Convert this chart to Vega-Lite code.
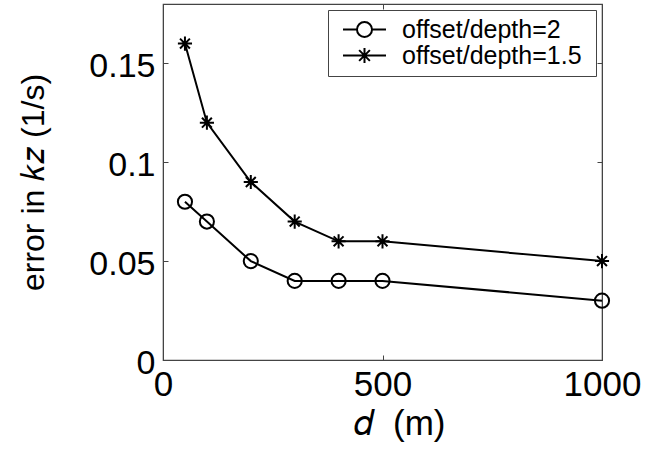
{
  "$schema": "https://vega.github.io/schema/vega-lite/v6.json",
  "width": 439,
  "height": 356,
  "autosize": "none",
  "padding": {"left": 163, "top": 4, "right": 54, "bottom": 96},
  "background": "white",
  "config": {
    "view": {"stroke": "#444", "strokeWidth": 1.2},
    "font": "Liberation Sans",
    "axis": {"grid": false, "domainColor": "#444", "tickColor": "#444", "labelColor": "black", "titleColor": "black", "labelFont": "Liberation Sans", "titleFont": "Liberation Sans", "titleFontWeight": "normal"}
  },
  "data": {"values": [
    {"d": 50, "err": 0.08, "series": "offset/depth=2"},
    {"d": 100, "err": 0.07, "series": "offset/depth=2"},
    {"d": 200, "err": 0.05, "series": "offset/depth=2"},
    {"d": 300, "err": 0.04, "series": "offset/depth=2"},
    {"d": 400, "err": 0.04, "series": "offset/depth=2"},
    {"d": 500, "err": 0.04, "series": "offset/depth=2"},
    {"d": 1000, "err": 0.03, "series": "offset/depth=2"},
    {"d": 50, "err": 0.16, "series": "offset/depth=1.5"},
    {"d": 100, "err": 0.12, "series": "offset/depth=1.5"},
    {"d": 200, "err": 0.09, "series": "offset/depth=1.5"},
    {"d": 300, "err": 0.07, "series": "offset/depth=1.5"},
    {"d": 400, "err": 0.06, "series": "offset/depth=1.5"},
    {"d": 500, "err": 0.06, "series": "offset/depth=1.5"},
    {"d": 1000, "err": 0.05, "series": "offset/depth=1.5"}
  ]},
  "layer": [
    {
      "mark": {"type": "line", "color": "black", "strokeWidth": 2},
      "encoding": {
        "x": {"field": "d", "type": "quantitative", "scale": {"domain": [0, 1000], "nice": false},
          "axis": {"orient": "bottom", "values": [0, 500, 1000], "labelExpr": "'' + datum.value", "title": "𝑑\u00a0\u00a0(m)", "labelFontSize": 35, "titleFontSize": 35, "tickSize": -5, "labelPadding": 12, "titlePadding": 4, "labelFlush": false, "titleX": 236}},
        "y": {"field": "err", "type": "quantitative", "scale": {"domain": [0, 0.18], "nice": false},
          "axis": {"orient": "left", "values": [0, 0.05, 0.1, 0.15], "labelExpr": "'' + datum.value", "title": "error in 𝑘𝑧 (1/s)", "labelFontSize": 34, "titleFontSize": 32, "tickSize": -5, "labelPadding": 13, "titlePadding": 38, "labelFlush": false, "labelOffset": 3}},
        "detail": {"field": "series"}
      }
    },
    {
      "mark": {"type": "point", "filled": false, "stroke": "black", "strokeWidth": 2, "size": 200, "opacity": 1},
      "encoding": {
        "x": {"field": "d", "type": "quantitative", "axis": {"orient": "top", "values": [0, 500, 1000], "labels": false, "title": null, "tickSize": -5}},
        "y": {"field": "err", "type": "quantitative", "axis": {"orient": "right", "values": [0, 0.05, 0.1, 0.15], "labels": false, "title": null, "tickSize": -5}},
        "shape": {"field": "series", "type": "nominal", "legend": null,
          "scale": {"domain": ["offset/depth=2", "offset/depth=1.5"],
            "range": ["circle", "M-1,0H1M0,-1V1M-0.7,-0.7L0.7,0.7M-0.7,0.7L0.7,-0.7"]}}
      }
    },
    {
      "mark": {"type": "point", "filled": false, "stroke": "black", "strokeWidth": 2, "size": 462, "opacity": 0},
      "encoding": {
        "x": {"field": "d", "type": "quantitative", "axis": null},
        "y": {"field": "err", "type": "quantitative", "axis": null},
        "shape": {"field": "series", "type": "nominal",
          "scale": {"domain": ["offset/depth=2", "offset/depth=1.5"],
            "range": ["M-2,0H-0.7M0.7,0H2M0.7,0A0.7,0.7 0 1,1 -0.7,0A0.7,0.7 0 1,1 0.7,0", "M-2,0H2M0,-0.7V0.7M-0.5,-0.5L0.5,0.5M-0.5,0.5L0.5,-0.5"]},
          "legend": {"title": "x", "titleOrient": "right", "titleOpacity": 0, "titleFontSize": 12, "titlePadding": 0, "orient": "top-right", "offset": 6, "symbolSize": 462, "symbolOpacity": 1, "symbolStrokeColor": "black", "symbolFillColor": "transparent", "symbolStrokeWidth": 2, "labelFontSize": 25, "labelFont": "Liberation Sans", "labelColor": "black", "fillColor": "white", "strokeColor": "#444", "padding": 7, "rowPadding": 0, "labelOffset": 25, "symbolOffset": 17, "labelLimit": 400}}
      }
    }
  ],
  "resolve": {"axis": {"x": "independent", "y": "independent"}, "scale": {"shape": "independent"}}
}
